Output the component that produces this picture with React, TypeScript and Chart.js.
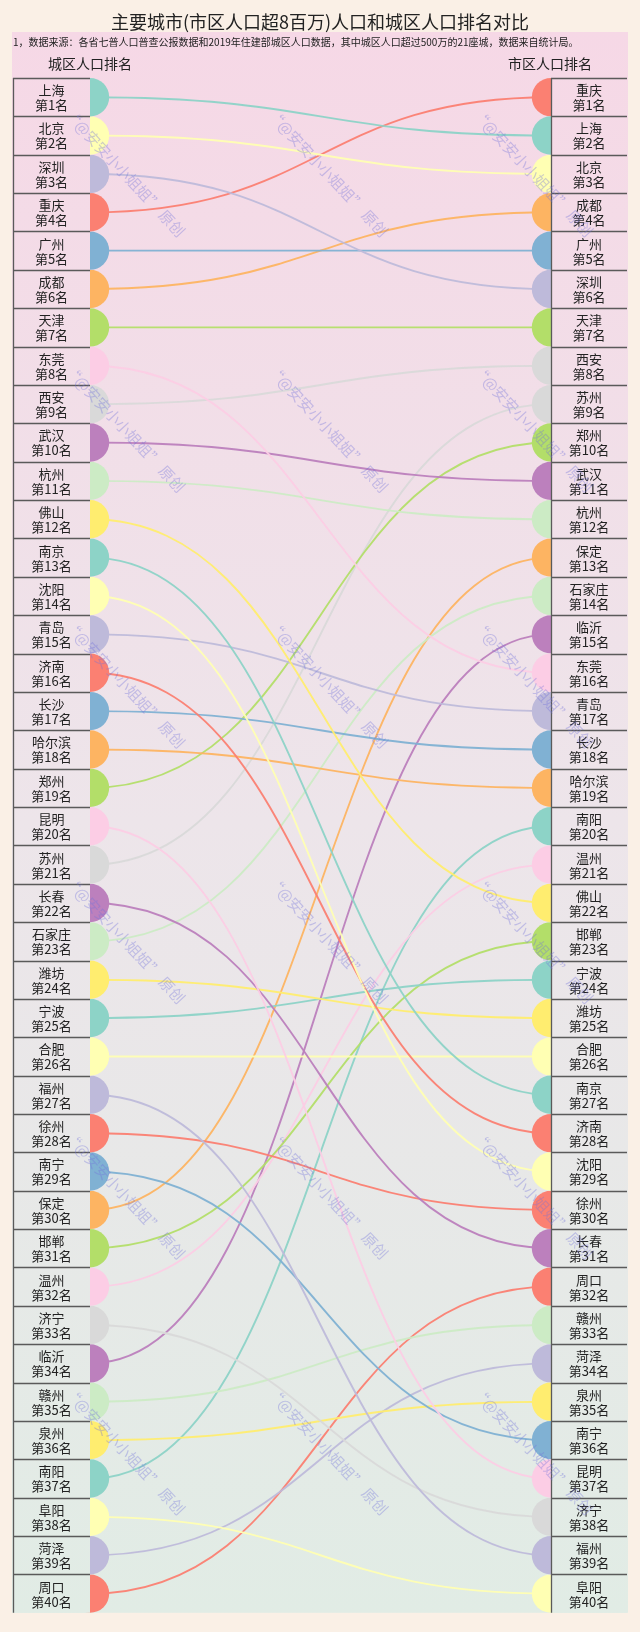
import React, { useEffect, useRef } from 'react';
import { Chart, registerables } from 'chart.js';

Chart.register(...registerables);

// ---- data ----
const chartTitle = '主要城市(市区人口超8百万)人口和城区人口排名对比';
const chartNote = '1，数据来源：各省七普人口普查公报数据和2019年住建部城区人口数据，其中城区人口超过500万的21座城，数据来自统计局。';
const leftHeader = '城区人口排名';
const rightHeader = '市区人口排名';

// ranked by urban-district population (城区人口)
const leftCities = ['上海', '北京', '深圳', '重庆', '广州', '成都', '天津', '东莞', '西安', '武汉',
  '杭州', '佛山', '南京', '沈阳', '青岛', '济南', '长沙', '哈尔滨', '郑州', '昆明',
  '苏州', '长春', '石家庄', '潍坊', '宁波', '合肥', '福州', '徐州', '南宁', '保定',
  '邯郸', '温州', '济宁', '临沂', '赣州', '泉州', '南阳', '阜阳', '菏泽', '周口'];

// ranked by municipal-district population (市区人口)
const rightCities = ['重庆', '上海', '北京', '成都', '广州', '深圳', '天津', '西安', '苏州', '郑州',
  '武汉', '杭州', '保定', '石家庄', '临沂', '东莞', '青岛', '长沙', '哈尔滨', '南阳',
  '温州', '佛山', '邯郸', '宁波', '潍坊', '合肥', '南京', '济南', '沈阳', '徐州',
  '长春', '周口', '赣州', '菏泽', '泉州', '南宁', '昆明', '济宁', '福州', '阜阳'];

const palette = ['#8dd3c7', '#ffffb3', '#bebada', '#fb8072', '#80b1d3', '#fdb462',
  '#b3de69', '#fccde5', '#d9d9d9', '#bc80bd', '#ccebc5', '#ffed6f'];

const watermarkText = '“@安安小小姐姐” 原创';

const FONT = '"Noto Sans CJK SC", "Noto Sans", sans-serif';

function hexA(hex: string, a: number) {
  const n = parseInt(hex.slice(1), 16);
  return `rgba(${(n >> 16) & 255},${(n >> 8) & 255},${n & 255},${a})`;
}

function bgGradient(ctx: CanvasRenderingContext2D, top: number, bottom: number) {
  const g = ctx.createLinearGradient(0, top, 0, bottom);
  g.addColorStop(0, '#f6d8e6');
  g.addColorStop(0.5, '#ede5ea');
  g.addColorStop(1, '#e1ece5');
  return g;
}

const decorPlugin = {
  id: 'decor',
  beforeDraw(chart: any) {
    const { ctx, chartArea: a } = chart;
    ctx.save();
    ctx.fillStyle = '#faf0e6';
    ctx.fillRect(0, 0, chart.width, chart.height);
    ctx.fillStyle = bgGradient(ctx, 32, a.bottom);
    ctx.fillRect(12, 32, 616, a.bottom - 32);
    ctx.fillStyle = '#222';
    ctx.textBaseline = 'middle';
    ctx.textAlign = 'center';
    ctx.font = `18px ${FONT}`;
    ctx.fillText(chartTitle, chart.width / 2, 22);
    ctx.textAlign = 'left';
    ctx.font = `10px ${FONT}`;
    ctx.fillText(chartNote, 13, 42);
    ctx.textAlign = 'center';
    ctx.font = `14px ${FONT}`;
    ctx.fillText(leftHeader, 90, 64);
    ctx.fillText(rightHeader, 550, 64);
    ctx.restore();
  },
  beforeDatasetDraw(chart: any, args: any) {
    const meta = args.meta;
    if (meta.type !== 'line' || !meta.dataset || meta.data.length < 2) return;
    meta.dataset.updateControlPoints(chart.chartArea, 'x');
    const p0 = meta.data[0];
    const p1 = meta.data[1];
    const dx = (p1.x - p0.x) * 0.5;
    p0.cp1x = p0.x; p0.cp1y = p0.y;
    p0.cp2x = p0.x + dx; p0.cp2y = p0.y;
    p1.cp1x = p1.x - dx; p1.cp1y = p1.y;
    p1.cp2x = p1.x; p1.cp2y = p1.y;
  },
  afterDatasetsDraw(chart: any) {
    const { ctx, chartArea: a, scales } = chart;
    const y = scales.y;
    const lx0 = 13, lx1 = a.left, rx0 = a.right, rx1 = 627;
    ctx.save();
    ctx.fillStyle = bgGradient(ctx, 32, a.bottom);
    ctx.fillRect(lx0, a.top, lx1 - lx0, a.bottom - a.top);
    ctx.fillRect(rx0, a.top, rx1 - rx0, a.bottom - a.top);
    ctx.strokeStyle = '#5a5a5a';
    ctx.lineWidth = 1.3;
    ctx.beginPath();
    for (let i = 0; i < leftCities.length; i++) {
      const top = Math.round(y.getPixelForValue(i + 0.5)) + 0.5;
      ctx.moveTo(lx0, top); ctx.lineTo(lx1, top);
      ctx.moveTo(rx0, top); ctx.lineTo(rx1, top);
    }
    ctx.moveTo(lx0 + 0.5, a.top); ctx.lineTo(lx0 + 0.5, a.bottom);
    ctx.moveTo(rx0 + 0.5, a.top); ctx.lineTo(rx0 + 0.5, a.bottom);
    ctx.stroke();
    ctx.fillStyle = '#222';
    ctx.font = `13px ${FONT}`;
    ctx.textAlign = 'center';
    ctx.textBaseline = 'middle';
    const lcx = (lx0 + lx1) / 2, rcx = (rx0 + rx1) / 2;
    for (let i = 0; i < leftCities.length; i++) {
      const cy = y.getPixelForValue(i + 1);
      ctx.fillText(leftCities[i], lcx, cy - 7);
      ctx.fillText(`第${i + 1}名`, lcx, cy + 8);
      ctx.fillText(rightCities[i], rcx, cy - 7);
      ctx.fillText(`第${i + 1}名`, rcx, cy + 8);
    }
    ctx.restore();
  },
  afterDraw(chart: any) {
    const { ctx } = chart;
    ctx.save();
    ctx.fillStyle = 'rgba(115,115,220,0.36)';
    ctx.font = `15px ${FONT}`;
    ctx.textAlign = 'center';
    ctx.textBaseline = 'middle';
    const cols = [125, 328, 533];
    for (let r = 0; r < 6; r++) {
      const cy = 173 + r * 255.6;
      for (const cx of cols) {
        ctx.save();
        ctx.translate(cx, cy);
        ctx.rotate((47 * Math.PI) / 180);
        ctx.fillText(watermarkText, 0, 0);
        ctx.restore();
      }
    }
    ctx.restore();
  },
};

export default function App() {
  const ref = useRef<HTMLCanvasElement | null>(null);
  useEffect(() => {
    document.body.style.margin = '0';
    document.body.style.background = '#faf0e6';
    if (!ref.current) return;
    const datasets = leftCities.map((city, i) => {
      const color = palette[i % palette.length];
      const rightRank = rightCities.indexOf(city) + 1;
      return {
        label: city,
        type: 'line' as const,
        data: [{ x: 0, y: i + 1 }, { x: 1, y: rightRank }],
        borderColor: hexA(color, 0.95),
        borderWidth: 1.9,
        tension: 0.4,
        pointRadius: 19.2,
        pointHoverRadius: 19.2,
        pointBackgroundColor: color,
        pointBorderWidth: 0,
        pointBorderColor: color,
        fill: false,
        clip: false as const,
      };
    });
    const chart = new Chart(ref.current, {
      type: 'line',
      data: { datasets },
      options: {
        animation: false,
        responsive: false,
        devicePixelRatio: 1,
        layout: { padding: { left: 90, right: 89, top: 78, bottom: 18 } },
        scales: {
          x: { type: 'linear', min: 0, max: 1, display: false },
          y: { type: 'linear', min: 0.5, max: 40.5, reverse: true, display: false },
        },
        plugins: { legend: { display: false }, tooltip: { enabled: false }, title: { display: false } },
        events: [],
      },
      plugins: [decorPlugin],
    });
    return () => chart.destroy();
  }, []);
  return <canvas ref={ref} width={640} height={1632} style={{ display: 'block' }} />;
}
